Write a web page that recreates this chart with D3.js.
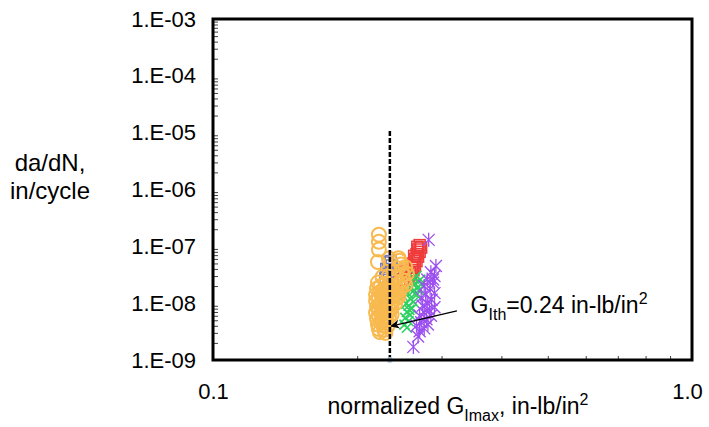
<!DOCTYPE html>
<html>
<head>
<meta charset="utf-8">
<script src="https://cdn.jsdelivr.net/npm/d3@7"></script>
<style>
  body { margin: 0; background: #fff; }
  text { font-family: "Liberation Sans", Arial, sans-serif; fill: #000; }
</style>
</head>
<body>
<div id="chart"></div>
<script>

// chart size
var width = 709;
var height = 427;

// axis limits and tick labels
var xTicks = [0.1, 1.0];
var xTickLabels = ["0.1", "1.0"];
var yTicks = [1e-9, 1e-8, 1e-7, 1e-6, 1e-5, 1e-4, 1e-3];
var yTickLabels = ["1.E-09", "1.E-08", "1.E-07", "1.E-06", "1.E-05", "1.E-04", "1.E-03"];

// threshold line, G_Ith
var thresholdX = 0.234;
var thresholdY = [1e-9, 1.15e-5];

// arrow from label to threshold line: [x, y] start and end
var arrowFrom = [0.323, 7.3e-9];
var arrowTo = [0.2355, 3.96e-9];
var labelAt = [0.345, 6.7e-9];

// data series, [normalized Gmax, da/dN]
var slateSquares = [
  [0.232, 5.2e-8], [0.236, 4.6e-8], [0.230, 4.0e-8], [0.238, 3.6e-8],
  [0.233, 3.2e-8], [0.229, 2.8e-8], [0.235, 5.5e-8]
];

var redSquares = [
  [0.270, 1.05e-7], [0.272, 9.5e-8], [0.268, 8.8e-8], [0.270, 8.0e-8],
  [0.266, 7.3e-8], [0.268, 6.6e-8], [0.264, 6.0e-8], [0.266, 5.5e-8],
  [0.262, 5.0e-8], [0.264, 4.6e-8], [0.260, 4.2e-8], [0.262, 3.8e-8],
  [0.258, 3.4e-8], [0.256, 3.0e-8], [0.250, 2.6e-8], [0.245, 2.3e-8],
  [0.240, 2.6e-8], [0.267, 9.8e-8], [0.263, 6.8e-8], [0.259, 2.7e-8],
  [0.254, 2.2e-8], [0.252, 3.6e-8]
];

var greenCrosses = [
  [0.266, 3.0e-8], [0.271, 2.6e-8], [0.264, 2.2e-8], [0.268, 1.9e-8],
  [0.261, 1.6e-8], [0.266, 1.4e-8], [0.258, 1.2e-8], [0.262, 1.05e-8],
  [0.256, 9.0e-9], [0.260, 8.0e-9], [0.254, 7.0e-9], [0.258, 6.2e-9],
  [0.252, 5.5e-9], [0.256, 4.8e-9], [0.251, 4.2e-9], [0.254, 3.7e-9],
  [0.272, 2.2e-8], [0.269, 1.7e-8], [0.250, 1.3e-8], [0.253, 9.8e-9],
  [0.263, 2.7e-8], [0.259, 1.9e-8], [0.255, 1.5e-8], [0.257, 7.6e-9]
];

var purpleStars = [
  [0.282, 1.3e-7], [0.262, 1.7e-9], [0.285, 3.5e-8], [0.290, 3.0e-8],
  [0.280, 2.6e-8], [0.288, 2.3e-8], [0.276, 2.0e-8], [0.284, 1.8e-8],
  [0.290, 1.5e-8], [0.278, 1.4e-8], [0.272, 1.25e-8], [0.286, 1.15e-8],
  [0.280, 1.0e-8], [0.274, 9.0e-9], [0.290, 8.5e-9], [0.283, 7.5e-9],
  [0.276, 6.8e-9], [0.270, 6.0e-9], [0.285, 6.0e-9], [0.279, 5.2e-9],
  [0.272, 4.6e-9], [0.266, 4.0e-9], [0.276, 3.6e-9], [0.270, 3.2e-9],
  [0.292, 4.5e-8], [0.288, 2.6e-8], [0.268, 2.6e-9], [0.281, 4.2e-9]
];

var orangeCircles = [
  [0.222, 1.6e-7], [0.222, 1.2e-7], [0.222, 8.8e-8], [0.221, 5.3e-8],
  [0.245, 5.6e-8], [0.247, 4.8e-8], [0.233, 6.1e-8], [0.244, 6.2e-8],
  [0.243, 4.1e-8], [0.248, 3.7e-8], [0.238, 3.5e-8], [0.252, 4.3e-8],
  [0.226, 2.9e-8], [0.233, 3.0e-8], [0.241, 2.8e-8], [0.249, 3.1e-8], [0.254, 3.3e-8],
  [0.221, 2.3e-8], [0.229, 2.2e-8], [0.236, 2.4e-8], [0.244, 2.2e-8], [0.250, 2.5e-8],
  [0.224, 2.0e-8], [0.232, 2.05e-8], [0.240, 2.0e-8], [0.252, 2.1e-8],
  [0.220, 1.8e-8], [0.227, 1.7e-8], [0.234, 1.85e-8], [0.242, 1.75e-8], [0.247, 1.9e-8],
  [0.223, 1.55e-8], [0.230, 1.6e-8], [0.237, 1.6e-8], [0.245, 1.65e-8],
  [0.219, 1.4e-8], [0.226, 1.35e-8], [0.232, 1.45e-8], [0.239, 1.4e-8], [0.244, 1.3e-8],
  [0.222, 1.25e-8], [0.229, 1.2e-8], [0.235, 1.25e-8], [0.241, 1.2e-8],
  [0.219, 1.1e-8], [0.225, 1.05e-8], [0.231, 1.12e-8], [0.237, 1.08e-8],
  [0.223, 9.5e-9], [0.229, 9.7e-9], [0.235, 9.4e-9], [0.240, 9.8e-9],
  [0.220, 8.6e-9], [0.226, 8.2e-9], [0.232, 8.8e-9], [0.236, 8.4e-9],
  [0.222, 7.5e-9], [0.228, 7.6e-9], [0.234, 7.4e-9],
  [0.219, 6.8e-9], [0.225, 6.5e-9], [0.231, 6.9e-9], [0.236, 6.3e-9],
  [0.222, 5.9e-9], [0.228, 5.8e-9], [0.233, 5.9e-9],
  [0.220, 5.3e-9], [0.226, 5.1e-9], [0.230, 5.0e-9],
  [0.224, 4.6e-9], [0.229, 4.5e-9],
  [0.221, 4.2e-9], [0.227, 4.0e-9], [0.231, 3.9e-9],
  [0.222, 3.5e-9], [0.228, 3.4e-9],
  [0.223, 3.1e-9], [0.229, 3.0e-9]
];

// plot area
var plot = { left: 213, top: 19, right: 692, bottom: 360 };

var x = d3.scaleLog()
    .domain([0.1, 1.0])
    .range([plot.left, plot.right]);

var y = d3.scaleLog()
    .domain([1e-9, 1e-3])
    .range([plot.bottom, plot.top]);

var svg = d3.select("#chart")
    .append("svg")
    .attr("width", width)
    .attr("height", height);

// arrow head
svg.append("defs").append("marker")
    .attr("id", "arrowHead")
    .attr("viewBox", "0 0 10 10")
    .attr("refX", 9)
    .attr("refY", 5)
    .attr("markerWidth", 7)
    .attr("markerHeight", 7)
    .attr("markerUnits", "strokeWidth")
    .attr("orient", "auto")
  .append("path")
    .attr("d", "M0,0 L10,5 L0,10 L3,5 Z")
    .style("fill", "#000");

// minor ticks, pointing into the plot
var xMinor = x.ticks().filter(function(d) { return xTicks.indexOf(d) < 0; });
var yMinor = y.ticks().filter(function(d) {
    return Math.abs(Math.log10(d) - Math.round(Math.log10(d))) > 1e-6;
});

svg.append("g")
    .attr("transform", "translate(0," + plot.bottom + ")")
    .call(d3.axisBottom(x).tickValues(xMinor).tickSizeInner(-4).tickSizeOuter(0).tickFormat(""))
    .call(function(g) { g.select(".domain").remove(); })
    .selectAll("line").style("stroke", "#444").style("stroke-width", 1);

svg.append("g")
    .attr("transform", "translate(" + plot.left + ",0)")
    .call(d3.axisLeft(y).tickValues(yMinor).tickSizeInner(-5).tickSizeOuter(0).tickFormat(""))
    .call(function(g) { g.select(".domain").remove(); })
    .selectAll("line").style("stroke", "#444").style("stroke-width", 1);

// major tick labels
var yAxis = svg.append("g")
    .attr("transform", "translate(" + plot.left + ",0)")
    .call(d3.axisLeft(y).tickValues(yTicks).tickSize(0).tickPadding(17)
      .tickFormat(function(d, i) { return yTickLabels[i]; }));
yAxis.select(".domain").remove();
yAxis.selectAll("text")
    .style("font-size", "22px")
    .style("font-family", "'Liberation Sans', Arial, sans-serif");

var xAxis = svg.append("g")
    .attr("transform", "translate(0," + plot.bottom + ")")
    .call(d3.axisBottom(x).tickValues(xTicks).tickSize(0).tickPadding(23)
      .tickFormat(function(d, i) { return xTickLabels[i]; }));
xAxis.select(".domain").remove();
xAxis.selectAll("text")
    .style("font-size", "22px")
    .style("font-family", "'Liberation Sans', Arial, sans-serif")
    .attr("dx", function(d, i) { return i == xTicks.length - 1 ? -5 : 0; });

// series: slate squares
svg.append("g").selectAll("rect")
    .data(slateSquares)
  .enter().append("rect")
    .attr("x", function(d) { return x(d[0]) - 5.5; })
    .attr("y", function(d) { return y(d[1]) - 5.5; })
    .attr("width", 11)
    .attr("height", 11)
    .style("fill", "none")
    .style("stroke", "#7b7bb3")
    .style("stroke-width", 1.5);

// series: red squares
svg.append("g").selectAll("rect")
    .data(redSquares)
  .enter().append("rect")
    .attr("x", function(d) { return x(d[0]) - 5.5; })
    .attr("y", function(d) { return y(d[1]) - 5.5; })
    .attr("width", 11)
    .attr("height", 11)
    .style("fill", "none")
    .style("stroke", "#ef3b3b")
    .style("stroke-width", 1.5);

// series: green crosses
svg.append("g").selectAll("path")
    .data(greenCrosses)
  .enter().append("path")
    .attr("transform", function(d) { return "translate(" + x(d[0]) + "," + y(d[1]) + ")"; })
    .attr("d", "M-5,-5L5,5M-5,5L5,-5")
    .style("fill", "none")
    .style("stroke", "#2ed162")
    .style("stroke-width", 1.6);

// series: purple stars
svg.append("g").selectAll("path")
    .data(purpleStars)
  .enter().append("path")
    .attr("transform", function(d) { return "translate(" + x(d[0]) + "," + y(d[1]) + ")"; })
    .attr("d", "M-6,-6L6,6M-6,6L6,-6M0,-7L0,7")
    .style("fill", "none")
    .style("stroke", "#9c4ff0")
    .style("stroke-width", 1.3);

// series: orange circles
svg.append("g").selectAll("circle")
    .data(orangeCircles)
  .enter().append("circle")
    .attr("cx", function(d) { return x(d[0]); })
    .attr("cy", function(d) { return y(d[1]); })
    .attr("r", 7)
    .style("fill", "none")
    .style("stroke", "#f8b94f")
    .style("stroke-width", 2);

// threshold line
svg.append("line")
    .attr("x1", x(thresholdX))
    .attr("x2", x(thresholdX))
    .attr("y1", y(thresholdY[0]))
    .attr("y2", y(thresholdY[1]))
    .style("stroke", "#000")
    .style("stroke-width", 2.5)
    .style("stroke-dasharray", "5,2");

svg.append("circle")
    .attr("cx", x(thresholdX))
    .attr("cy", y(thresholdY[0]))
    .attr("r", 3)
    .style("fill", "#b4cdeb");

// plot frame
svg.append("rect")
    .attr("x", plot.left)
    .attr("y", plot.top)
    .attr("width", plot.right - plot.left)
    .attr("height", plot.bottom - plot.top)
    .style("fill", "none")
    .style("stroke", "#000")
    .style("stroke-width", 3);

// arrow and label
svg.append("line")
    .attr("x1", x(arrowFrom[0]))
    .attr("y1", y(arrowFrom[1]))
    .attr("x2", x(arrowTo[0]))
    .attr("y2", y(arrowTo[1]))
    .style("stroke", "#000")
    .style("stroke-width", 1.3)
    .attr("marker-end", "url(#arrowHead)");

var label = svg.append("text")
    .attr("x", x(labelAt[0]))
    .attr("y", y(labelAt[1]))
    .style("font-size", "23px");
label.append("tspan").text("G");
label.append("tspan").attr("dy", 7).style("font-size", "16px").text("Ith");
label.append("tspan").attr("dy", -7).text("=0.24 in-lb/in");
label.append("tspan").attr("dy", -9).style("font-size", "16px").text("2");

// axis titles
var yTitle = svg.append("text")
    .attr("text-anchor", "middle")
    .style("font-size", "24px");
yTitle.append("tspan").attr("x", 50).attr("y", 171).text("da/dN,");
yTitle.append("tspan").attr("x", 50).attr("y", 199).text("in/cycle");

var xTitle = svg.append("text")
    .attr("x", 458)
    .attr("y", 414)
    .attr("text-anchor", "middle")
    .style("font-size", "23px");
xTitle.append("tspan").text("normalized G");
xTitle.append("tspan").attr("dy", 7).style("font-size", "16px").text("Imax");
xTitle.append("tspan").attr("dy", -7).text(", in-lb/in");
xTitle.append("tspan").attr("dy", -9).style("font-size", "16px").text("2");

</script>
</body>
</html>
